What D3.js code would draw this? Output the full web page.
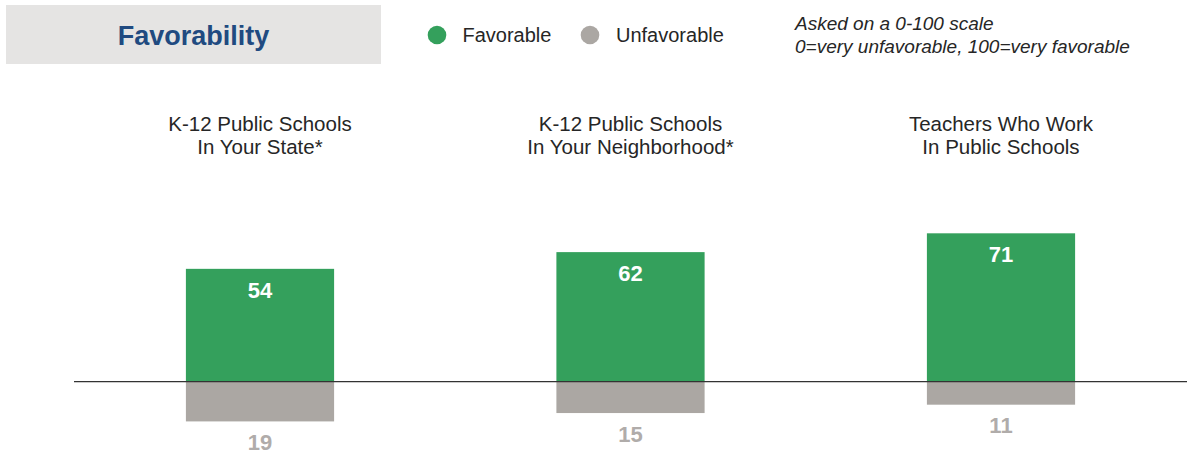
<!DOCTYPE html>
<html>
<head>
<meta charset="utf-8">
<script src="https://cdn.jsdelivr.net/npm/d3@7"></script>
<style>
  body { margin: 0; background: #fff; }
  text { font-family: "Liberation Sans", Arial, sans-serif; }
</style>
</head>
<body>
<svg width="1188" height="456"></svg>
<script>
const categories = [
  ["K-12 Public Schools", "In Your State*"],
  ["K-12 Public Schools", "In Your Neighborhood*"],
  ["Teachers Who Work", "In Public Schools"]
];
const favorable = [54, 62, 71];
const unfavorable = [19, 15, 11];
const seriesNames = ["Favorable", "Unfavorable"];
const noteLines = ["Asked on a 0-100 scale", "0=very unfavorable, 100=very favorable"];

const width = 1188;
const height = 456;
const green = '#34a05c';
const grey = '#aba7a3';

let svg = d3.select('svg')
        .attr('width', width)
        .attr('height', height);

let xScale = d3.scaleBand()
        .domain(d3.range(categories.length))
        .range([74.75, 1186.25])
        .paddingInner(0.6)
        .paddingOuter(0.3);

// 0 sits on the baseline, roughly 2.09px per point
let yScale = d3.scaleLinear()
        .domain([-30, 100])
        .range([444.4, 172.7]);

// header box
svg.append('rect')
        .attr('x', 6).attr('y', 5)
        .attr('width', 375).attr('height', 59)
        .attr('fill', '#e5e4e3');

svg.append('text')
        .attr('x', 193.5).attr('y', 45)
        .style('text-anchor', 'middle')
        .style('font-size', '27px')
        .style('font-weight', 'bold')
        .attr('fill', '#204a80')
        .text("Favorability");

// legend
let legendX = [437, 590];
let legend = svg.selectAll('.legend')
        .data(seriesNames)
        .enter()
        .append('g')
        .attr('transform', (d, i) => 'translate(' + legendX[i] + ',35)');

legend.append('circle')
        .attr('r', 9.3)
        .attr('fill', (d, i) => i === 0 ? green : grey);

legend.append('text')
        .attr('x', (d, i) => i === 0 ? 25.5 : 26)
        .attr('y', 7.3)
        .style('font-size', '20px')
        .attr('fill', '#262626')
        .text(d => d);

svg.selectAll('.note')
        .data(noteLines)
        .enter()
        .append('text')
        .attr('x', 795)
        .attr('y', (d, i) => 30 + i * 23)
        .style('font-size', '19px')
        .style('font-style', 'italic')
        .attr('fill', '#262626')
        .text(d => d);

// category titles
svg.selectAll('.cat')
        .data(categories)
        .enter()
        .append('text')
        .attr('x', (d, i) => xScale(i) + xScale.bandwidth() / 2)
        .attr('y', 130.5)
        .style('text-anchor', 'middle')
        .style('font-size', '20.5px')
        .attr('fill', '#262626')
        .selectAll('tspan')
        .data(d => d)
        .enter()
        .append('tspan')
        .attr('x', function () { return d3.select(this.parentNode).attr('x'); })
        .attr('dy', (d, i) => i === 0 ? 0 : 23.5)
        .text(d => d);

// bars
svg.selectAll('.fav')
        .data(favorable)
        .enter()
        .append('rect')
        .attr('x', (d, i) => xScale(i))
        .attr('y', d => yScale(d))
        .attr('width', xScale.bandwidth())
        .attr('height', d => yScale(0) - yScale(d))
        .attr('fill', green);

svg.selectAll('.unfav')
        .data(unfavorable)
        .enter()
        .append('rect')
        .attr('x', (d, i) => xScale(i))
        .attr('y', yScale(0))
        .attr('width', xScale.bandwidth())
        .attr('height', d => yScale(-d) - yScale(0))
        .attr('fill', grey);

// baseline
svg.append('line')
        .attr('x1', 74).attr('x2', 1187)
        .attr('y1', yScale(0)).attr('y2', yScale(0))
        .attr('stroke', '#333')
        .attr('stroke-width', 1.3);

// value labels
svg.selectAll('.favLabel')
        .data(favorable)
        .enter()
        .append('text')
        .attr('x', (d, i) => xScale(i) + xScale.bandwidth() / 2)
        .attr('y', d => yScale(d) + 28.8)
        .style('text-anchor', 'middle')
        .style('font-size', '22px')
        .style('font-weight', 'bold')
        .attr('fill', '#fff')
        .text(d => d);

svg.selectAll('.unfavLabel')
        .data(unfavorable)
        .enter()
        .append('text')
        .attr('x', (d, i) => xScale(i) + xScale.bandwidth() / 2)
        .attr('y', d => yScale(-d) + 28.8)
        .style('text-anchor', 'middle')
        .style('font-size', '22px')
        .style('font-weight', 'bold')
        .attr('fill', '#b0acaa')
        .text(d => d);
</script>
</body>
</html>
